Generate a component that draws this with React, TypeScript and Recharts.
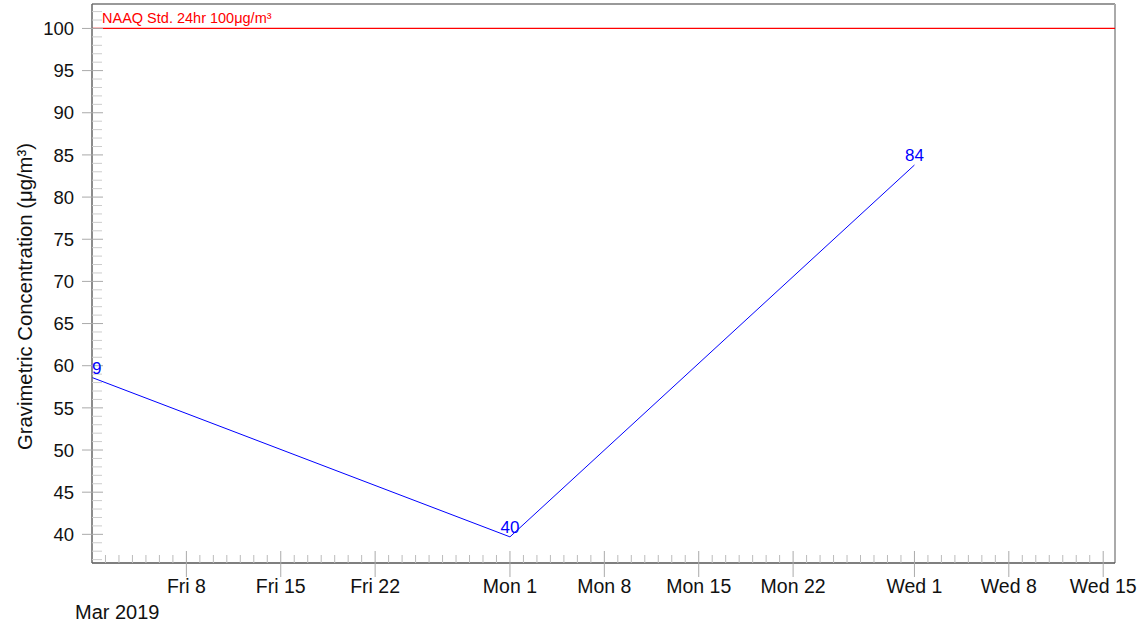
import React from 'react';
import { LineChart, Line, XAxis, YAxis, ReferenceLine, LabelList } from 'recharts';

// ---- data ----
const sampleDates = ['2019-03-01', '2019-04-01', '2019-05-01'];
const concentrations = [58.6, 39.7, 83.8];
const pointLabels = ['59', '40', '84'];

const xMajorDates = ['2019-03-08', '2019-03-15', '2019-03-22', '2019-04-01', '2019-04-08', '2019-04-15', '2019-04-22', '2019-05-01', '2019-05-08', '2019-05-15'];
const xMajorLabels = ['Fri 8', 'Fri 15', 'Fri 22', 'Mon 1', 'Mon 8', 'Mon 15', 'Mon 22', 'Wed 1', 'Wed 8', 'Wed 15'];
const xStartDate = '2019-03-01';
const xStartLabel = 'Mar 2019';
const xEndDate = '2019-05-15T21:00:00Z';

const yMajorTicks = [40, 45, 50, 55, 60, 65, 70, 75, 80, 85, 90, 95, 100];
const yDomain = [36.6, 102.9];

const standardValue = 100;
const standardLabel = 'NAAQ Std. 24hr 100μg/m³';
const yAxisTitle = 'Gravimetric Concentration (μg/m³)';

// ---- layout ----
const W = 1147;
const H = 626;
const MARGIN = { top: 4, right: 32, bottom: 0, left: 0 };
const Y_AXIS_W = 92;
const X_AXIS_H = 63;
const PLOT = {
  x: MARGIN.left + Y_AXIS_W,
  y: MARGIN.top,
  w: W - MARGIN.left - MARGIN.right - Y_AXIS_W,
  h: H - MARGIN.top - MARGIN.bottom - X_AXIS_H,
};
const FONT = '"Liberation Sans", Arial, Helvetica, sans-serif';
const DAY = 86400000;

const toTs = (s: string) => new Date(s.length === 10 ? s + 'T00:00:00Z' : s).getTime();

const data = sampleDates.map((d, i) => ({ t: toTs(d), v: concentrations[i], lbl: pointLabels[i] }));

const xStart = toTs(xStartDate);
const xEnd = toTs(xEndDate);
const majorMap = new Map<number, string>(xMajorDates.map((d, i) => [toTs(d), xMajorLabels[i]]));
const xTicks: number[] = [];
for (let t = xStart; t <= xEnd; t += DAY) xTicks.push(t);

const yTicks: number[] = [];
for (let v = Math.ceil(yDomain[0]); v <= Math.floor(yDomain[1]); v += 1) yTicks.push(v);
const yMajorSet = new Set(yMajorTicks);

const XTick = (props: any) => {
  const { x, y, payload } = props;
  const v = payload.value as number;
  if (v === xStart) {
    return (
      <g>
        <text x={x - 17} y={y + 56} textAnchor="start" fontSize={20} fontFamily={FONT} fill="#111">
          {xStartLabel}
        </text>
      </g>
    );
  }
  const major = majorMap.get(v);
  if (major) {
    return (
      <g>
        <line x1={x} x2={x} y1={y - 12} y2={y + 14} stroke="#aaa" strokeWidth={1} />
        <text x={x} y={y + 30} textAnchor="middle" fontSize={19.5} fontFamily={FONT} fill="#111">
          {major}
        </text>
      </g>
    );
  }
  return <line x1={x} x2={x} y1={y - 8} y2={y} stroke="#bbb" strokeWidth={1} />;
};

const YTick = (props: any) => {
  const { x, y, payload } = props;
  const v = payload.value as number;
  if (yMajorSet.has(v)) {
    return (
      <g>
        <line x1={x - 10} x2={x + 11} y1={y} y2={y} stroke="#aaa" strokeWidth={1} />
        <text x={x - 18} y={y} dy="0.36em" textAnchor="end" fontSize={18.5} fontFamily={FONT} fill="#111">
          {v}
        </text>
      </g>
    );
  }
  return <line x1={x} x2={x + 10} y1={y} y2={y} stroke="#ccc" strokeWidth={1} />;
};

const PointLabel = (props: any) => {
  const { x, y, value, index } = props;
  const id = `plot-clip-${index}`;
  return (
    <g>
      <defs>
        <clipPath id={id}>
          <rect x={PLOT.x} y={PLOT.y} width={PLOT.w} height={PLOT.h} />
        </clipPath>
      </defs>
      <text x={x} y={y - 4} textAnchor="middle" fontSize={17} fontFamily={FONT} fill="#0000ff" clipPath={`url(#${id})`}>
        {value}
      </text>
    </g>
  );
};

const StdLabel = (props: any) => {
  const vb = props.viewBox || {};
  return (
    <text x={vb.x + 10} y={vb.y - 5} textAnchor="start" fontSize={14.5} fontFamily={FONT} fill="#ff0000">
      {standardLabel}
    </text>
  );
};

const YTitle = (props: any) => {
  const vb = props.viewBox || {};
  const cx = vb.x + 32;
  const cy = vb.y + vb.height / 2 + 13;
  return (
    <text x={cx} y={cy} transform={`rotate(-90 ${cx} ${cy})`} textAnchor="middle" fontSize={20.3} fontFamily={FONT} fill="#111">
      {yAxisTitle}
    </text>
  );
};

export default function App() {
  return (
    <div style={{ position: 'absolute', left: 0, top: 0, width: W, height: H, background: '#fff' }}>
      <LineChart width={W} height={H} data={data} margin={MARGIN}>
        <XAxis
          dataKey="t"
          type="number"
          scale="time"
          domain={[xStart, xEnd]}
          allowDataOverflow
          ticks={xTicks}
          interval={0}
          tick={<XTick />}
          tickLine={false}
          tickSize={0}
          tickMargin={0}
          height={X_AXIS_H}
          axisLine={{ stroke: '#555', strokeWidth: 1.5 }}
        />
        <YAxis
          type="number"
          domain={yDomain}
          allowDataOverflow
          ticks={yTicks}
          interval={0}
          tick={<YTick />}
          tickLine={false}
          tickSize={0}
          tickMargin={0}
          width={Y_AXIS_W}
          axisLine={{ stroke: '#666', strokeWidth: 1.5 }}
          label={<YTitle />}
        />
        <ReferenceLine y={yDomain[1]} stroke="#777" strokeWidth={1.5} />
        <ReferenceLine x={xEnd} stroke="#aaa" strokeWidth={2} />
        <ReferenceLine y={standardValue} stroke="#ff0000" strokeWidth={1.3} label={<StdLabel />} />
        <Line
          dataKey="v"
          type="linear"
          stroke="#0000ff"
          strokeWidth={1}
          dot={false}
          activeDot={false}
          isAnimationActive={false}
        >
          <LabelList dataKey="lbl" content={<PointLabel />} />
        </Line>
      </LineChart>
    </div>
  );
}
